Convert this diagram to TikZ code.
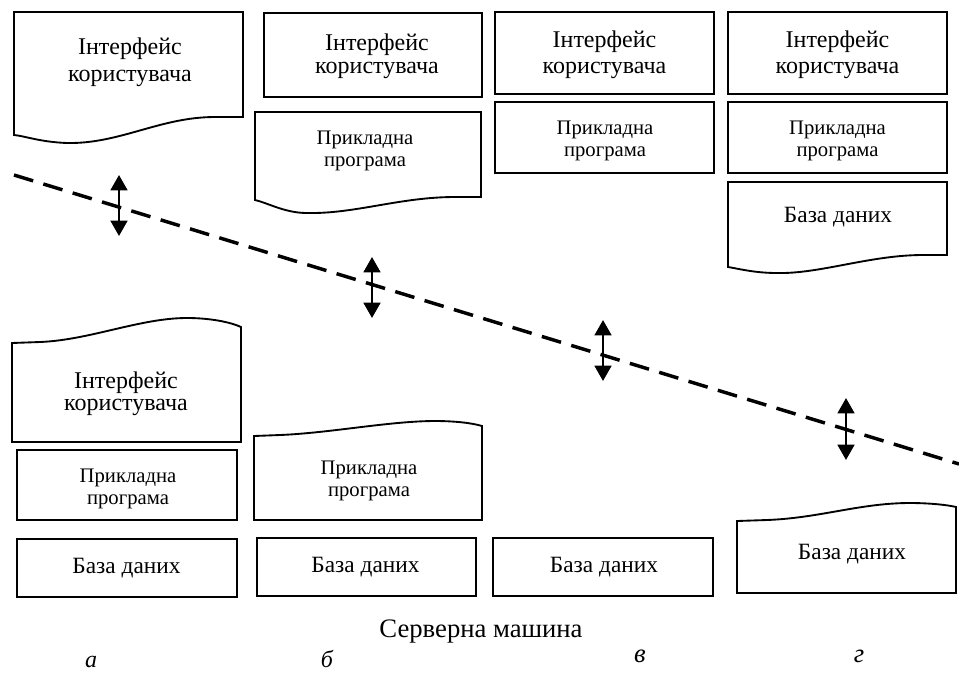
\documentclass[tikz,border=0pt]{standalone}
\usepackage{fontspec}
\setmainfont{Liberation Serif}
\usetikzlibrary{arrows.meta,fit}

\begin{document}
\begin{tikzpicture}[x=0.75pt,y=-0.75pt,
  frame/.style={draw, line width=1.4pt, inner sep=0pt},
  wavy/.style={draw, line width=1.4pt, line join=miter},
  ui/.style={font=\fontsize{18}{20.5}\selectfont, align=center, inner sep=0pt},
  app/.style={font=\fontsize{15.5}{16.5}\selectfont, align=center, inner sep=0pt},
  db/.style={font=\fontsize{17.5}{20}\selectfont, inner sep=0pt},
  caption/.style={font=\fontsize{20}{22}\selectfont, inner sep=0pt, anchor=base},
  letter/.style={font=\fontsize{18}{20}\selectfont\itshape, inner sep=0pt, anchor=base},
  link/.style={line width=2pt, {Triangle[width=12.5pt,length=11.5pt]}-{Triangle[width=12.5pt,length=11.5pt]}},
  boundary/.style={line width=2.6pt, dash pattern=on 15pt off 8pt}]
\useasboundingbox (0,0) rectangle (959,672);

% ---------- column a, client side ----------
\draw[wavy] (14,12) -- (243,12) -- (243,117) -- (215,117)
  .. controls (160,117) and (120,144) .. (67,143)
  .. controls (40,142) and (25,136) .. (14,135) -- cycle;
\node[ui] (aUI) at (130,62) {Інтерфейс\\користувача};

% ---------- column b, client side ----------
\node[frame, fit={(264,13) (482,97)}] (bUIf) {};
\node[ui, font=\fontsize{18}{17.5}\selectfont] (bUI) at (377,56) {Інтерфейс\\користувача};
\draw[wavy] (255,112) -- (481,112) -- (481,197) -- (455,197)
  .. controls (400,197) and (355,214) .. (307,213)
  .. controls (285,213) and (268,203) .. (255,200) -- cycle;
\node[app] (bAPP) at (365,150.5) {Прикладна\\програма};

% ---------- column v, client side ----------
\node[frame, fit={(495,12) (714,94)}] (vUIf) {};
\node[ui, font=\fontsize{18}{19.5}\selectfont] (vUI) at (604.5,54.5) {Інтерфейс\\користувача};
\node[frame, fit={(495,102) (714,173)}] (vAPPf) {};
\node[app] (vAPP) at (605,141) {Прикладна\\програма};

% ---------- column g, client side ----------
\node[frame, fit={(728,12) (947,94)}] (gUIf) {};
\node[ui, font=\fontsize{18}{19.5}\selectfont] (gUI) at (837.5,54.5) {Інтерфейс\\користувача};
\node[frame, fit={(728,102) (947,173)}] (gAPPf) {};
\node[app] (gAPP) at (837.5,141) {Прикладна\\програма};
\draw[wavy] (728,182) -- (947,182) -- (947,255) -- (923,255)
  .. controls (870,255) and (820,274) .. (777,273)
  .. controls (755,273) and (740,269) .. (728,267) -- cycle;
\node[db] (gDBc) at (838,217.5) {База даних};

% ---------- client / server boundary ----------
\coordinate (cutL) at (14,175);
\coordinate (cutR) at (959,464);
\draw[boundary] (cutL) -- (cutR);

\coordinate (aTop) at (119,175);  \coordinate (aBot) at (119,236);
\coordinate (bTop) at (372,257);  \coordinate (bBot) at (372,318);
\coordinate (vTop) at (603,320);  \coordinate (vBot) at (603,381);
\coordinate (gTop) at (846,398);  \coordinate (gBot) at (846,460);
\draw[link] (aTop) -- (aBot);
\draw[link] (bTop) -- (bBot);
\draw[link] (vTop) -- (vBot);
\draw[link] (gTop) -- (gBot);

% ---------- column a, server side ----------
\draw[wavy] (12,442) -- (12,343) -- (40,342)
  .. controls (90,340) and (140,318) .. (187,318)
  .. controls (210,318) and (230,322) .. (241,327) -- (241,442) -- cycle;
\node[ui, font=\fontsize{18}{16.5}\selectfont] (aUIs) at (126,393.5) {Інтерфейс\\користувача};
\node[frame, fit={(17,450) (237,520)}] (aAPPf) {};
\node[app] (aAPP) at (128,489) {Прикладна\\програма};
\node[frame, fit={(17,539) (237,597)}] (aDBf) {};
\node[db] (aDB) at (126.5,568) {База даних};

% ---------- column b, server side ----------
\draw[wavy] (254,520) -- (254,436) -- (280,435)
  .. controls (330,433) and (390,421) .. (435,421)
  .. controls (455,421) and (472,423) .. (482,426) -- (482,520) -- cycle;
\node[app] (bAPPs) at (369,481) {Прикладна\\програма};
\node[frame, fit={(257,538) (476,596)}] (bDBf) {};
\node[db] (bDB) at (365.5,567.5) {База даних};

% ---------- column v, server side ----------
\node[frame, fit={(493,538) (713,596)}] (vDBf) {};
\node[db] (vDB) at (604,567.5) {База даних};

% ---------- column g, server side ----------
\draw[wavy] (737,593) -- (737,521) -- (767,520)
  .. controls (820,518) and (860,503) .. (910,503)
  .. controls (930,503) and (948,505) .. (956,507) -- (956,593) -- cycle;
\node[db] (gDB) at (852,554.5) {База даних};

% ---------- captions ----------
\node[caption] (server) at (481,637) {Серверна машина};
\node[letter] (la) at (91,667) {а};
\node[letter] (lb) at (327,667) {б};
\node[letter, font=\fontsize{20}{22}\selectfont\itshape] (lv) at (640,662) {в};
\node[letter, font=\fontsize{20}{22}\selectfont\itshape] (lg) at (859,662) {г};
\end{tikzpicture}
\end{document}
